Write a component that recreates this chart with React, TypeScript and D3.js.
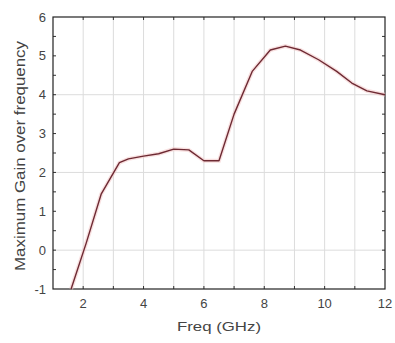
import React, { useEffect, useRef } from "react";
import * as d3 from "d3";

// Frequency (GHz) and gain
const freq = [1.6, 2.1, 2.6, 3.2, 3.5, 4.0, 4.5, 5.0, 5.5, 6.0, 6.5, 7.0, 7.6, 8.2, 8.7, 9.2, 9.8, 10.4, 10.9, 11.4, 12.0];
const gain = [-1.0, 0.18, 1.45, 2.25, 2.35, 2.42, 2.48, 2.6, 2.58, 2.3, 2.3, 3.5, 4.6, 5.15, 5.25, 5.15, 4.9, 4.6, 4.3, 4.1, 4.0];

const xTicks = [2, 4, 6, 8, 10, 12];
const yTicks = [-1, 0, 1, 2, 3, 4, 5, 6];
const xGrid = [2, 3, 4, 5, 6, 7, 8, 9, 10, 11];
const yGrid = [0, 2, 4];

const W = 395;
const H = 343;
const margin = { top: 17, right: 10, bottom: 54, left: 53 };

const App = () => {
  const ref = useRef<SVGSVGElement>(null);

  useEffect(() => {
    const svg = d3.select(ref.current);
    svg.selectAll("*").remove();

    const x = d3.scaleLinear().domain([1, 12]).range([margin.left, W - margin.right]);
    const y = d3.scaleLinear().domain([-1, 6]).range([H - margin.bottom, margin.top]);
    const [x0, x1] = x.range();
    const [y0, y1] = y.range();

    // grid
    svg.append("g")
      .selectAll("line")
      .data(xGrid)
      .enter()
      .append("line")
      .attr("x1", (d) => x(d)).attr("x2", (d) => x(d))
      .attr("y1", y1).attr("y2", y0)
      .attr("stroke", "#dcdcdc").attr("stroke-width", 1);
    svg.append("g")
      .selectAll("line")
      .data(yGrid)
      .enter()
      .append("line")
      .attr("x1", x0).attr("x2", x1)
      .attr("y1", (d) => y(d)).attr("y2", (d) => y(d))
      .attr("stroke", "#dcdcdc").attr("stroke-width", 1);

    // inward ticks on all four sides
    const xMinor = d3.range(2, 12, 1);
    const yMinor = d3.range(-0.5, 6, 0.5);
    const ticks = svg.append("g").attr("stroke", "#333").attr("stroke-width", 1);
    xMinor.forEach((t) => {
      ticks.append("line").attr("x1", x(t)).attr("x2", x(t)).attr("y1", y0).attr("y2", y0 - 3);
      ticks.append("line").attr("x1", x(t)).attr("x2", x(t)).attr("y1", y1).attr("y2", y1 + 3);
    });
    yMinor.forEach((t) => {
      ticks.append("line").attr("x1", x0).attr("x2", x0 + 3).attr("y1", y(t)).attr("y2", y(t));
      ticks.append("line").attr("x1", x1).attr("x2", x1 - 3).attr("y1", y(t)).attr("y2", y(t));
    });

    // frame
    svg.append("rect")
      .attr("x", x0).attr("y", y1)
      .attr("width", x1 - x0).attr("height", y0 - y1)
      .attr("fill", "none").attr("stroke", "#222").attr("stroke-width", 1.2);

    // curve
    const pts = freq.map((f, i) => [f, gain[i]] as [number, number]);
    const line = d3.line<[number, number]>().x((d) => x(d[0])).y((d) => y(d[1]));
    svg.append("path")
      .datum(pts)
      .attr("d", line)
      .attr("fill", "none")
      .attr("stroke", "#f3cccc")
      .attr("stroke-width", 4)
      .attr("opacity", 0.6);
    svg.append("path")
      .datum(pts)
      .attr("d", line)
      .attr("fill", "none")
      .attr("stroke", "#6e2a33")
      .attr("stroke-width", 1.4)
      .attr("stroke-linejoin", "round");

    // tick labels
    const font = "Liberation Sans, Arial, sans-serif";
    svg.append("g")
      .selectAll("text")
      .data(xTicks)
      .enter()
      .append("text")
      .attr("x", (d) => x(d))
      .attr("y", y0 + 19)
      .attr("text-anchor", "middle")
      .attr("font-family", font)
      .attr("font-size", 13)
      .attr("fill", "#444")
      .text((d) => d);
    svg.append("g")
      .selectAll("text")
      .data(yTicks)
      .enter()
      .append("text")
      .attr("x", x0 - 7)
      .attr("y", (d) => y(d) + 4.5)
      .attr("text-anchor", "end")
      .attr("font-family", font)
      .attr("font-size", 13)
      .attr("fill", "#444")
      .text((d) => d);

    // axis titles
    svg.append("text")
      .attr("x", (x0 + x1) / 2)
      .attr("y", 331)
      .attr("text-anchor", "middle")
      .attr("font-family", font)
      .attr("font-size", 13)
      .attr("fill", "#444")
      .attr("textLength", 84)
      .attr("lengthAdjust", "spacingAndGlyphs")
      .text("Freq (GHz)");
    svg.append("text")
      .attr("transform", `translate(25, 156) rotate(-90)`)
      .attr("text-anchor", "middle")
      .attr("font-family", font)
      .attr("font-size", 15)
      .attr("fill", "#444")
      .attr("textLength", 230)
      .attr("lengthAdjust", "spacingAndGlyphs")
      .text("Maximum Gain over frequency");
  }, []);

  return (
    <svg
      ref={ref}
      width={W}
      height={H}
      style={{ position: "absolute", left: 0, top: 0, background: "#fff" }}
    />
  );
};

export default App;
